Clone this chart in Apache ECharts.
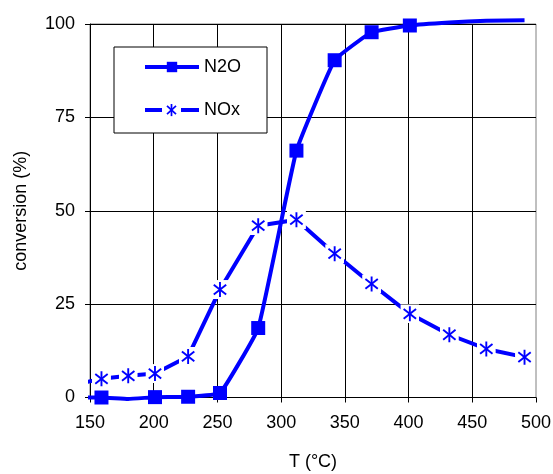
<!DOCTYPE html>
<html>
<head>
<meta charset="utf-8">
<script src="https://cdn.jsdelivr.net/npm/echarts@6/dist/echarts.min.js"></script>
<style>
html,body{margin:0;padding:0;background:#fff;}
#chart{width:553px;height:474px;}
</style>
</head>
<body>
<div id="chart"></div>
<script>
// Temperatures (°C) shared by both curves
var temps = [144, 159, 180, 201, 227, 252, 282, 312, 342, 371, 401, 432, 461, 491];
// N2O conversion (%)
var n2oValues = [0, 0, -0.4, 0.1, 0.2, 1.2, 18.6, 66.1, 90.3, 97.8, 99.6, 100.4, 100.9, 101];
var n2oMarked = [false, true, false, true, true, true, true, true, true, true, true, false, false, false];
// NOx conversion (%)
var noxValues = [3.9, 5.0, 5.8, 6.4, 11.0, 28.9, 46.0, 47.6, 38.5, 30.4, 22.4, 16.8, 13.0, 10.8];
var noxMarked = [false, true, true, true, true, true, true, true, true, true, true, true, true, true];
// Axis ticks
var xTicks = [150, 200, 250, 300, 350, 400, 450, 500];
var yTicks = [0, 25, 50, 75, 100];
var seriesNames = ['N2O', 'NOx'];

var BLUE = '#0000FF';
var FONT = '"Liberation Sans", Arial, sans-serif';
var FS = 18;

var starSvg = '<svg xmlns="http://www.w3.org/2000/svg" width="38" height="38" viewBox="0 0 19 19">' +
  '<rect x="0" y="0" width="19" height="19" fill="#ffffff"/>' +
  '<g stroke="#0000FF" stroke-width="1.9" stroke-linecap="butt">' +
  '<line x1="9.5" y1="2" x2="9.5" y2="17"/>' +
  '<line x1="3.3" y1="4.6" x2="15.7" y2="14.4"/>' +
  '<line x1="3.3" y1="14.4" x2="15.7" y2="4.6"/>' +
  '</g></svg>';
var starSymbol = 'image://data:image/svg+xml;charset=utf-8,' + encodeURIComponent(starSvg);

var legendNoxSvg = '<svg xmlns="http://www.w3.org/2000/svg" width="108" height="26" viewBox="0 0 54 13">' +
  '<line x1="0" y1="6.5" x2="54" y2="6.5" stroke="#0000FF" stroke-width="4"/>' +
  '<rect x="17" y="0" width="19" height="13" fill="#ffffff"/>' +
  '<g stroke="#0000FF" stroke-width="1.7">' +
  '<line x1="26.5" y1="0.3" x2="26.5" y2="12.7"/>' +
  '<line x1="22" y1="2.3" x2="31" y2="10.7"/>' +
  '<line x1="22" y1="10.7" x2="31" y2="2.3"/>' +
  '</g></svg>';
var legendNoxIcon = 'image://data:image/svg+xml;charset=utf-8,' + encodeURIComponent(legendNoxSvg);

function buildData(values, marked) {
  return temps.map(function (t, i) {
    var item = { value: [t, values[i]] };
    if (!marked[i]) item.symbol = 'none';
    return item;
  });
}

var chart = echarts.init(document.getElementById('chart'), null, { renderer: 'canvas' });
chart.setOption({
  animation: false,
  backgroundColor: '#ffffff',
  textStyle: { fontFamily: FONT },
  grid: {
    left: 90, right: 17, top: 24, bottom: 76.5,
    containLabel: false,
    outerBoundsMode: 'none',
    show: true, borderColor: '#808080', borderWidth: 1, backgroundColor: 'transparent'
  },
  legend: {
    orient: 'vertical',
    left: 114, top: 47,
    padding: [10, 26, 13, 29],
    itemWidth: 54, itemHeight: 13, itemGap: 23,
    backgroundColor: '#ffffff',
    borderColor: '#000000', borderWidth: 1, borderRadius: 0,
    lineStyle: { width: 4 },
    textStyle: { fontSize: FS, color: '#000', fontFamily: FONT, lineHeight: 20 },
    selectedMode: false,
    data: [
      { name: seriesNames[0] },
      { name: seriesNames[1], icon: legendNoxIcon }
    ]
  },
  xAxis: {
    type: 'value',
    min: xTicks[0], max: xTicks[xTicks.length - 1], interval: 50,
    name: 'T (°C)', nameLocation: 'middle', nameGap: 56,
    nameTextStyle: { fontSize: FS, color: '#000', fontFamily: FONT },
    axisLine: { show: true, onZero: false, lineStyle: { color: '#000', width: 1 } },
    axisTick: { show: true, inside: false, length: 5, lineStyle: { color: '#000' } },
    axisLabel: { fontSize: FS, color: '#000', margin: 17, fontFamily: FONT },
    splitLine: { show: true, showMinLine: false, showMaxLine: false, lineStyle: { color: '#000', width: 1 } }
  },
  yAxis: {
    type: 'value',
    min: yTicks[0], max: yTicks[yTicks.length - 1], interval: 25,
    name: 'conversion (%)', nameLocation: 'middle', nameGap: 60,
    nameTextStyle: { fontSize: FS, color: '#000', fontFamily: FONT },
    axisLine: { show: true, lineStyle: { color: '#000', width: 1 } },
    axisTick: { show: true, inside: false, length: 5, lineStyle: { color: '#000' } },
    axisLabel: { fontSize: FS, color: '#000', margin: 15, fontFamily: FONT },
    splitLine: { show: true, showMinLine: false, lineStyle: { color: '#000', width: 1 } }
  },
  series: [
    {
      name: seriesNames[0],
      type: 'line',
      data: buildData(n2oValues, n2oMarked),
      symbol: 'rect',
      symbolSize: 14,
      showAllSymbol: true,
      smooth: 0.1,
      clip: false,
      lineStyle: { color: BLUE, width: 4 },
      itemStyle: { color: BLUE },
      z: 3
    },
    {
      name: seriesNames[1],
      type: 'line',
      data: buildData(noxValues, noxMarked),
      symbol: starSymbol,
      symbolSize: 19,
      showAllSymbol: true,
      clip: false,
      lineStyle: { color: BLUE, width: 4 },
      itemStyle: { color: BLUE },
      z: 2
    }
  ]
});
</script>
</body>
</html>
